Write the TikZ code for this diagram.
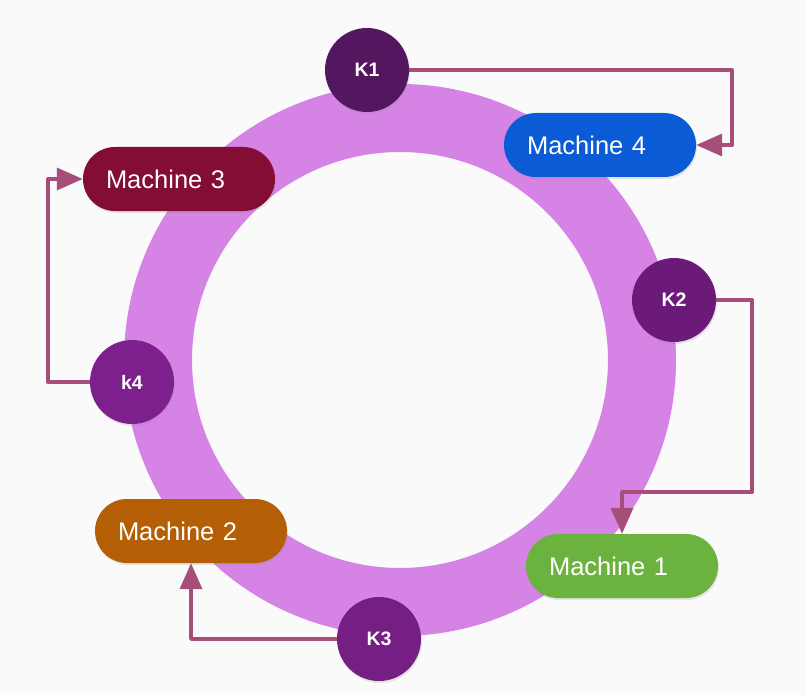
\documentclass[tikz,border=0pt]{standalone}
\usepackage{fontspec}
\setmainfont{Liberation Sans}
\usetikzlibrary{arrows.meta,shadows}
\definecolor{bgc}{HTML}{FAFAFA}
\definecolor{ringc}{HTML}{D584E5}
\definecolor{arrc}{HTML}{A64D79}
\definecolor{kone}{HTML}{54165E}
\definecolor{ktwo}{HTML}{6C1A7A}
\definecolor{kthree}{HTML}{751E84}
\definecolor{kfour}{HTML}{7E1F8E}
\definecolor{mfour}{HTML}{0B5BD6}
\definecolor{mthree}{HTML}{840D33}
\definecolor{mtwo}{HTML}{B45F06}
\definecolor{mone}{HTML}{6BB33E}
\tikzset{
  keynode/.style={circle, minimum size=84pt, inner sep=0pt, text=white,
    font=\fontsize{19.5}{22}\selectfont\bfseries,
    drop shadow={opacity=0.18, shadow xshift=1pt, shadow yshift=-2pt}},
  machnode/.style={rectangle, rounded corners=32pt, minimum height=64pt,
    text width=146pt, inner xsep=23pt, align=left, text=white,
    font=\fontsize{25.5}{28}\selectfont,
    drop shadow={opacity=0.18, shadow xshift=1pt, shadow yshift=-2pt}},
  conn/.style={draw=arrc, line width=3.5pt, line join=round,
    -{Triangle[length=26pt,width=22pt]}}
}
\begin{document}
\begin{tikzpicture}[x=1pt,y=-1pt]
\fill[bgc] (0,0) rectangle (805,695);
\useasboundingbox (0,0) rectangle (805,695);
\coordinate (c) at (400,360);
\fill[ringc, even odd rule] (c) circle[radius=276pt] (c) circle[radius=208pt];
\node[keynode, fill=kone] (K1) at (367,70) {K1};
\node[keynode, fill=ktwo] (K2) at (674,300) {K2};
\node[keynode, fill=kthree] (K3) at (379,639) {K3};
\node[keynode, fill=kfour] (K4) at (132,382) {k4};
\node[machnode, fill=mfour] (M4) at (600,145) {Machine 4};
\node[machnode, fill=mthree] (M3) at (179,179) {Machine 3};
\node[machnode, fill=mtwo] (M2) at (191,531) {Machine 2};
\node[machnode, fill=mone] (M1) at (622,566) {Machine 1};
\draw[conn] (K1.east) -- ++(323,0) |- (M4.east);
\draw[conn] (K2.east) -- ++(36,0) -- ++(0,192) -| (M1.north);
\draw[conn] (K3.west) -| (M2.south);
\draw[conn] (K4.west) -- ++(-42,0) |- (M3.west);
\end{tikzpicture}
\end{document}
